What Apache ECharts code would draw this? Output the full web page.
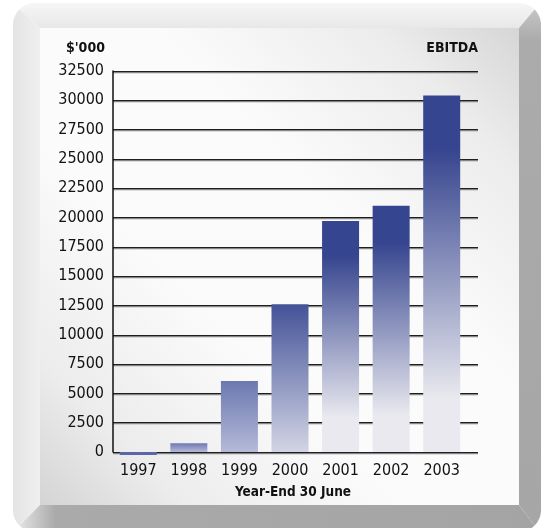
<!DOCTYPE html>
<html>
<head>
<meta charset="utf-8">
<script src="https://cdn.jsdelivr.net/npm/echarts@6/dist/echarts.min.js"></script>
<style>
html,body{margin:0;padding:0;background:#fff;}
#c{width:543px;height:528px;}
</style>
</head>
<body>
<div id="c"></div>
<script>
var years = ['1997','1998','1999','2000','2001','2002','2003'];
var ebitda = [-250, 750, 6050, 12600, 19700, 21000, 30400];
var yMin = 0, yMax = 32500, yStep = 2500;
var unitLabel = "$'000";
var seriesLabel = 'EBITDA';
var xTitle = 'Year-End 30 June';

var FONT = "'Liberation Sans Narrow', 'DejaVu Sans Condensed', 'Arial Narrow', sans-serif";

function hex(c){return [parseInt(c.substr(1,2),16),parseInt(c.substr(3,2),16),parseInt(c.substr(5,2),16)];}
function mix(a,b,t){var A=hex(a),B=hex(b);return 'rgb('+A.map(function(v,i){return Math.round(v+(B[i]-v)*t);}).join(',')+')';}
function clamp(x){return Math.max(0,Math.min(1,x));}
var DARK='#36458f', LIGHT='#e9e9ef', TOPLOW='#6c78b0', BOTLOW='#b5bad8';
var maxV = Math.max.apply(null, ebitda);
function barColor(p){
  var v = p.value;
  if (v < 0) return '#5a66a8';
  var r = v / maxV;
  var top = mix(TOPLOW, DARK, clamp((r-0.2)/0.3));
  var bot = mix(BOTLOW, LIGHT, clamp((r-0.2)/0.4));
  var s = clamp((r-0.4)/0.2);
  var h1 = 0.15*s, h2 = 1-0.15*s;
  return {type:'linear',x:0,y:0,x2:0,y2:1,colorStops:[
    {offset:0,color:top},{offset:h1,color:top},{offset:h2,color:bot},{offset:1,color:bot}]};
}

// frame helpers
function arc(cx,cy,r,a0,a1,n){var pts=[];for(var i=0;i<=n;i++){var a=(a0+(a1-a0)*i/n)*Math.PI/180;pts.push([cx+r*Math.cos(a),cy+r*Math.sin(a)]);}return pts;}
var OL=13,OT=3,OR=541,OB=532,R=22,IL=40,IT=28,IR=519,IB=505;
var topPoly = [].concat(arc(OL+R,OT+R,R,225,270,8), arc(OR-R,OT+R,R,270,315,8), [[IR,IT],[IL,IT]]);
var leftPoly = [].concat(arc(OL+R,OT+R,R,180,225,8), [[IL,IT],[IL,IB]], arc(OL+R,OB-R,R,135,180,8));
var rightPoly = [].concat(arc(OR-R,OT+R,R,315,360,8), arc(OR-R,OB-R,R,0,45,8), [[IR,IB],[IR,IT]]);
var botPoly = [].concat(arc(OL+R,OB-R,R,90,135,8), [[IL,IB],[IR,IB]], arc(OR-R,OB-R,R,45,90,8));

var chart = echarts.init(document.getElementById('c'), null, {renderer:'canvas'});
var gridLine = {color:'#1e1e1e', width:1.2, shadowColor:'rgba(120,120,120,0.9)', shadowOffsetY:1.2, shadowBlur:0};
chart.setOption({
  backgroundColor:'#ffffff',
  animation:false,
  graphic:[
    {type:'polygon', z:-10, shape:{points:topPoly}, style:{fill:{type:'linear',x:0,y:0,x2:0,y2:1,colorStops:[{offset:0,color:'#f6f6f6'},{offset:1,color:'#e8e8e8'}]}}},
    {type:'polygon', z:-10, shape:{points:leftPoly}, style:{fill:{type:'linear',x:0,y:0,x2:1,y2:0,colorStops:[{offset:0,color:'#e4e4e4'},{offset:1,color:'#efefef'}]}}},
    {type:'polygon', z:-10, shape:{points:rightPoly}, style:{fill:{type:'linear',x:0,y:0,x2:0,y2:1,colorStops:[{offset:0,color:'#c4c4c4'},{offset:0.06,color:'#ababab'},{offset:1,color:'#a6a6a6'}]}}},
    {type:'polygon', z:-10, shape:{points:botPoly}, style:{fill:{type:'linear',x:0,y:0,x2:1,y2:0,colorStops:[{offset:0,color:'#e2e2e2'},{offset:0.07,color:'#aaaaaa'},{offset:1,color:'#a4a4a4'}]}}},
    {type:'rect', z:-10, shape:{x:IL,y:IT,width:IR-IL,height:IB-IT}, style:{fill:{type:'linear',x:0,y:1,x2:1,y2:0,colorStops:[
      {offset:0,color:'#d4d4d4'},{offset:0.15,color:'#ececec'},{offset:0.38,color:'#fbfbfb'},{offset:0.62,color:'#fbfbfb'},{offset:0.85,color:'#ececec'},{offset:1,color:'#d6d6d6'}]}}},
    {type:'text', z:100, x:66, y:48.5, style:{text:unitLabel, font:'bold 14px '+FONT, fill:'#111', textAlign:'left', textVerticalAlign:'middle'}},
    {type:'text', z:100, x:478, y:48.5, style:{text:seriesLabel, font:'bold 14px '+FONT, fill:'#111', textAlign:'right', textVerticalAlign:'middle'}},
    {type:'text', z:100, x:293, y:492, style:{text:xTitle, font:'bold 13.5px '+FONT, fill:'#111', textAlign:'center', textVerticalAlign:'middle'}}
  ],
  grid:[
    {left:113, top:71, width:365, height:381},
    {left:113, top:71, width:354, height:381}
  ],
  xAxis:[
    {gridIndex:0, type:'category', data:years, show:false},
    {gridIndex:1, type:'category', data:years, axisLine:{show:false}, axisTick:{show:false},
     axisLabel:{interval:0, margin:11, color:'#111', fontSize:16, fontFamily:FONT}}
  ],
  yAxis:[
    {gridIndex:0, type:'value', min:yMin, max:yMax, interval:yStep,
     axisLine:{show:true, lineStyle:{color:'#111', width:1.5}}, axisTick:{show:false},
     axisLabel:{margin:9, color:'#111', fontSize:16, fontFamily:FONT, formatter:function(v){return String(v);}},
     splitLine:{show:true, lineStyle:gridLine}},
    {gridIndex:1, type:'value', min:yMin, max:yMax, interval:yStep, show:false, splitLine:{show:false}}
  ],
  series:[{
    type:'bar', xAxisIndex:1, yAxisIndex:1, data:ebitda, barWidth:37, clip:false,
    itemStyle:{color:barColor}
  }]
});
</script>
</body>
</html>
